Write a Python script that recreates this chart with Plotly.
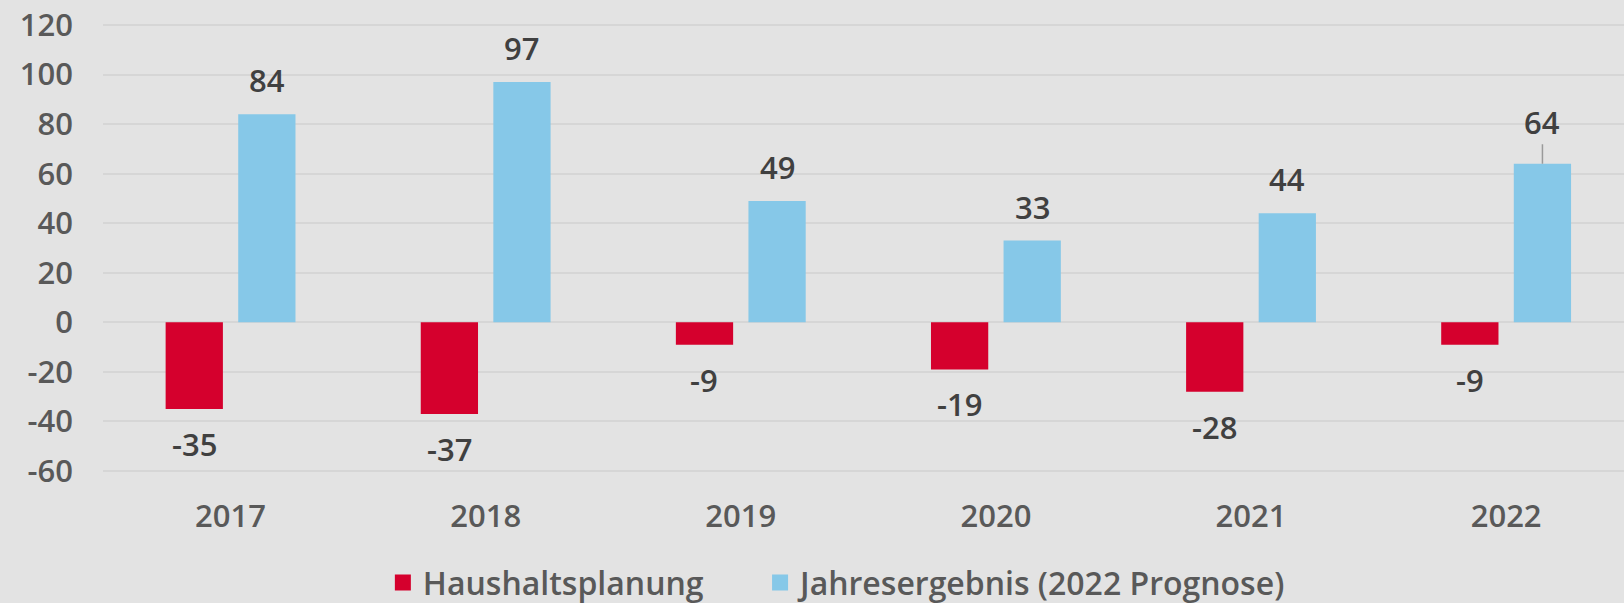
import plotly.graph_objects as go

years = ["2017", "2018", "2019", "2020", "2021", "2022"]
haushaltsplanung = [-35, -37, -9, -19, -28, -9]
jahresergebnis = [84, 97, 49, 33, 44, 64]
series_names = ["Haushaltsplanung", "Jahresergebnis (2022 Prognose)"]
y_ticks = [-60, -40, -20, 0, 20, 40, 60, 80, 100, 120]
y_ticktext = [str(t) for t in y_ticks]

RED = "#D5002D"
BLUE = "#86C8E8"
BG = "#E3E3E3"
GRID = "#D6D6D6"
FONT = "Open Sans"

fig = go.Figure()
fig.add_trace(go.Bar(x=years, y=haushaltsplanung, name=series_names[0], showlegend=False,
                     marker=dict(color=RED, line=dict(width=0))))
fig.add_trace(go.Bar(x=years, y=jahresergebnis, name=series_names[1], showlegend=False,
                     marker=dict(color=BLUE, line=dict(width=0))))
# legend entries (larger square swatches), one legend each for exact spacing
for name, col, lg in zip(series_names, [RED, BLUE], ["legend", "legend2"]):
    fig.add_trace(go.Scatter(x=[None], y=[None], mode="markers", name=name, legend=lg,
                             marker=dict(symbol="square", size=19, color=col)))

label_font = dict(family=FONT, size=31, color="#404040", weight=600)
annotations = []
for i, yr in enumerate(years):
    v = haushaltsplanung[i]
    annotations.append(dict(x=i, y=v, xref="x", yref="y", text=str(v),
                            showarrow=False, xshift=-36.3, yshift=-35,
                            yanchor="middle", font=label_font))
    v = jahresergebnis[i]
    if i == len(years) - 1:
        annotations.append(dict(x=i, y=v, xref="x", yref="y", text=str(v),
                                showarrow=True, arrowhead=0, arrowwidth=1.5,
                                arrowcolor="#9A9A9A", ax=0, ay=-42, xshift=36.3,
                                font=label_font))
    else:
        annotations.append(dict(x=i, y=v, xref="x", yref="y", text=str(v),
                                showarrow=False, xshift=36.3, yshift=34,
                                yanchor="middle", font=label_font))

legend_common = dict(orientation="h", xanchor="left", y=-0.234, yanchor="middle",
                     itemsizing="trace",
                     font=dict(family=FONT, size=32, color="#595959", weight=600),
                     bgcolor="rgba(0,0,0,0)")

fig.update_layout(
    width=1624, height=603,
    paper_bgcolor=BG, plot_bgcolor=BG,
    margin=dict(l=103, r=0, t=20, b=127, autoexpand=False),
    barmode="group", bargap=0.431, bargroupgap=0.211,
    font=dict(family=FONT, color="#595959"),
    showlegend=True,
    legend=dict(x=0.184, **legend_common),
    legend2=dict(x=0.432, **legend_common),
    annotations=annotations,
    xaxis=dict(type="category", range=[-0.5, 5.462], showgrid=False, zeroline=False,
               showline=False, ticks="", ticklabelstandoff=19,
               tickfont=dict(family=FONT, size=31, color="#595959", weight=600)),
    yaxis=dict(range=[-62, 122], tickvals=y_ticks, ticktext=y_ticktext, showgrid=True,
               gridcolor=GRID, gridwidth=2, zeroline=True, zerolinecolor=GRID,
               zerolinewidth=2, showline=False, ticks="", ticklabelstandoff=29,
               tickfont=dict(family=FONT, size=31, color="#595959", weight=600)),
)

fig.write_html("out.html", config={"displayModeBar": False},
               post_script="document.body.style.margin='0px';document.body.style.overflow='hidden';")
